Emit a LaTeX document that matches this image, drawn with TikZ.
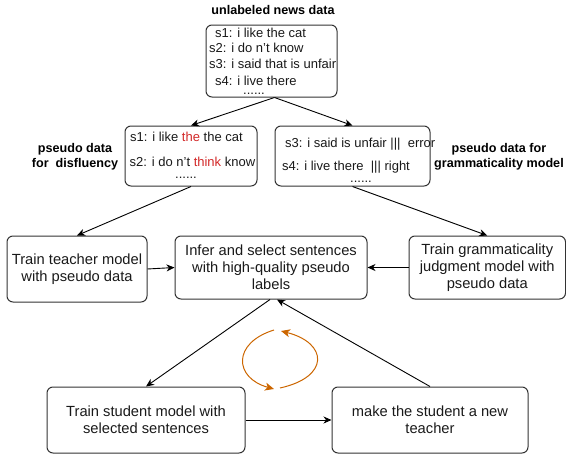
\documentclass[tikz,border=0pt]{standalone}
\usepackage{fontspec}
\setmainfont{Liberation Sans}
\usetikzlibrary{arrows.meta,calc}
\definecolor{hlred}{RGB}{210,40,40}
\definecolor{loopc}{RGB}{204,102,0}
\newcommand{\bodyfs}{\fontsize{14.7}{17}\selectfont}
\newcommand{\datafs}{\fontsize{13}{16}\selectfont}
\newcommand{\labfs}{\fontsize{12.6}{15}\selectfont\bfseries}
\begin{document}
\begin{tikzpicture}[x=1pt,y=-1pt,
  box/.style={draw=black!80,line width=1pt,rounded corners=6pt,inner sep=0pt},
  body/.style={box,align=center,font=\bodyfs,text=black!90},
  dtext/.style={anchor=base west,inner sep=0pt,font=\datafs,text=black!90},
  dots/.style={dtext,anchor=base},
  lab/.style={anchor=base,inner sep=0pt,font=\labfs},
  arr/.style={-{Stealth[length=8pt,width=7pt,inset=2.5pt]},line width=0.9pt},
  loopar/.style={-{Stealth[length=9pt,width=8pt,inset=2.5pt]},line width=1pt,draw=loopc}]
\useasboundingbox (0,0) rectangle (566,455);

% top data box
\node[lab] (ttl) at (273,14.5) {unlabeled news data};
\node[box,minimum width=131pt,minimum height=72pt] (top) at (271.5,61) {};
\node[dtext] (t1) at (215,37.5) {s1: i like the cat};
\node[dtext] (t2) at (209,52.5) {s2: i do n't know};
\node[dtext] (t3) at (209,68.5) {s3: i said that is unfair};
\node[dtext] (t4) at (215,85) {s4: i live there};
\node[dots] (t5) at (254,94) {......};

% left pseudo data box
\node[box,minimum width=132pt,minimum height=60pt] (dl) at (191,156) {};
\node[dtext] (l1) at (130,141.5) {s1: i like \textcolor{hlred}{the} the cat};
\node[dtext] (l2) at (129.5,166.5) {s2: i do n't \textcolor{hlred}{think} know};
\node[dots] (l3) at (186,178.5) {......};
\node[lab] (lla) at (75,152.5) {pseudo data};
\node[lab] (llb) at (75,167.5) {for\ \ disfluency};

% right pseudo data box
\node[box,minimum width=155pt,minimum height=60pt] (dr) at (352.5,156) {};
\node[dtext] (r1) at (285,147.5) {s3: i said is unfair |||\ \ error};
\node[dtext] (r2) at (282,170.5) {s4: i live there\ \ ||| right};
\node[dots] (r3) at (361,182) {......};
\node[lab] (rla) at (499,152.5) {pseudo data for};
\node[lab] (rlb) at (499,167.5) {grammaticality model};

% process boxes
\node[body,minimum width=140pt,minimum height=66pt] (teach) at (77,269) {Train teacher model\\with pseudo data};
\node[body,minimum width=192pt,minimum height=63pt] (infer) at (271,267.5) {Infer and select sentences\\with high-quality pseudo\\labels};
\node[body,minimum width=156.5pt,minimum height=63pt] (gram) at (487.25,267.5) {Train grammaticality\\judgment model with\\pseudo data};
\node[body,minimum width=198pt,minimum height=66pt] (stud) at (146,420) {Train student model with\\selected sentences};
\node[body,minimum width=196pt,minimum height=66pt] (newt) at (430,420) {make the student a new\\teacher};

% connectors
\draw[arr] ([xshift=3pt]top.south) -- (dl.north);
\draw[arr] ([xshift=3pt]top.south) -- (dr.north);
\draw[arr] (dl.south) -- (teach.north);
\draw[arr] (dr.south) -- (gram.north);
\draw[arr] (teach.east) -- (infer.west);
\draw[arr] (gram.west) -- (infer.east);
\draw[arr] ([xshift=-1pt]infer.south) -- (stud.north);
\draw[arr] (newt.north) -- ([xshift=6pt]infer.south);
\draw[arr] (stud.east) -- (newt.west);

% loop arrows
\coordinate (la) at (274,330);
\coordinate (lb) at (274,389);
\coordinate (ra) at (280,388);
\coordinate (rb) at (281,331);
\draw[loopar] (la) .. controls (232,343) and (234,378) .. (lb);
\draw[loopar] (ra) .. controls (330,377) and (328,343) .. (rb);
\end{tikzpicture}
\end{document}
